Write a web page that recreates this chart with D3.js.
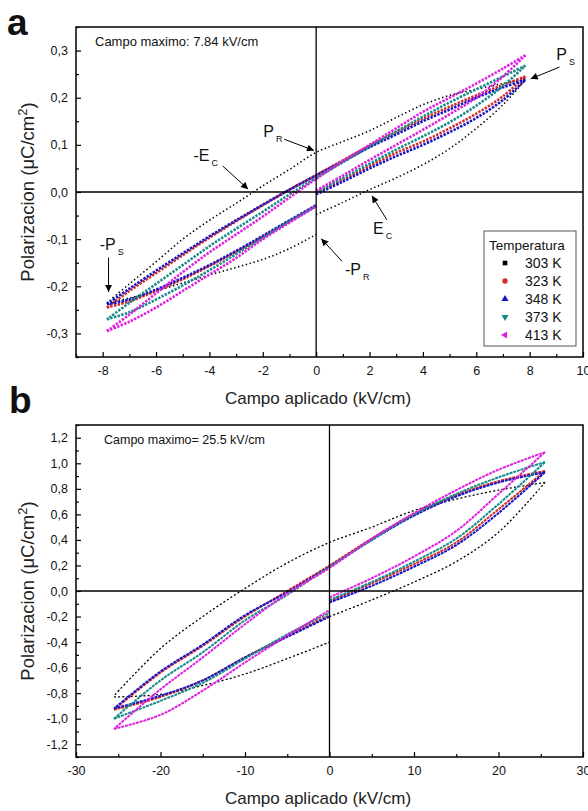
<!DOCTYPE html>
<html>
<head>
<meta charset="utf-8">
<script src="https://cdn.jsdelivr.net/npm/d3@7"></script>
<style>
  body { margin: 0; background: #fff; }
  svg { display: block; font-family: "Liberation Sans", Arial, sans-serif; }
</style>
</head>
<body>
<div id="chart"></div>
<script>
// temperatures, one loop each
const temps = ["303 K", "323 K", "348 K", "373 K", "413 K"]
const tempColors = ["#000000", "#d42a2a", "#1414c8", "#178a8a", "#e020e0"]

// ---- panel a : campo maximo 7.84 kV/cm ----
const aFieldFall = [7.84, 7, 6, 5, 4, 3, 2, 1, 0, -1, -2, -3, -4, -5, -6, -7, -7.84]
const aFieldReturn = [-7.84, -7, -6, -5, -4, -3, -2, -1, 0]
const aFieldRise = [0, 1, 2, 3, 4, 5, 6, 7, 7.84]

const a303Fall = [0.24, 0.23, 0.218, 0.205, 0.185, 0.158, 0.13, 0.107, 0.084, 0.048, 0.013, -0.024, -0.06, -0.1, -0.148, -0.195, -0.235]
const a303Return = [-0.235, -0.225, -0.21, -0.193, -0.176, -0.16, -0.143, -0.12, -0.09]
const a303Rise = [-0.048, -0.022, 0.005, 0.03, 0.058, 0.092, 0.135, 0.185, 0.238]

const a323Fall = [0.245, 0.227, 0.205, 0.181, 0.155, 0.127, 0.098, 0.067, 0.036, 0.005, -0.028, -0.062, -0.097, -0.134, -0.172, -0.21, -0.245]
const a323Return = [-0.245, -0.232, -0.21, -0.185, -0.157, -0.127, -0.095, -0.062, -0.03]
const a323Rise = [-0.002, 0.026, 0.055, 0.083, 0.107, 0.135, 0.166, 0.203, 0.245]

const a348Fall = [0.238, 0.222, 0.2, 0.175, 0.15, 0.122, 0.095, 0.065, 0.035, 0.005, -0.027, -0.06, -0.094, -0.13, -0.167, -0.205, -0.238]
const a348Return = [-0.238, -0.228, -0.207, -0.182, -0.155, -0.125, -0.093, -0.06, -0.028]
const a348Rise = [-0.005, 0.022, 0.05, 0.076, 0.1, 0.127, 0.157, 0.195, 0.238]

const a373Fall = [0.268, 0.245, 0.218, 0.19, 0.16, 0.128, 0.096, 0.063, 0.03, -0.005, -0.042, -0.078, -0.115, -0.155, -0.195, -0.235, -0.27]
const a373Return = [-0.27, -0.255, -0.228, -0.198, -0.166, -0.132, -0.097, -0.062, -0.03]
const a373Rise = [0.0, 0.03, 0.06, 0.09, 0.118, 0.148, 0.183, 0.225, 0.268]

const a413Fall = [0.29, 0.262, 0.23, 0.2, 0.17, 0.135, 0.1, 0.065, 0.028, -0.012, -0.052, -0.09, -0.128, -0.17, -0.215, -0.26, -0.295]
const a413Return = [-0.295, -0.275, -0.245, -0.21, -0.175, -0.14, -0.1, -0.065, -0.03]
const a413Rise = [0.003, 0.035, 0.068, 0.1, 0.132, 0.165, 0.2, 0.245, 0.29]

const aXTicks = [-8, -6, -4, -2, 0, 2, 4, 6, 8, 10]
const aXMinor = [-9, -7, -5, -3, -1, 1, 3, 5, 7, 9]
const aYTicks = [-0.3, -0.2, -0.1, 0, 0.1, 0.2, 0.3]
const aYMinor = [-0.35, -0.25, -0.15, -0.05, 0.05, 0.15, 0.25, 0.35]

// ---- panel b : campo maximo 25.5 kV/cm ----
const bFieldFall = [25.5, 20, 15, 10, 5, 0, -5, -10, -15, -20, -25.5]
const bFieldReturn = [-25.5, -20, -15, -10, -5, 0]
const bFieldRise = [0, 5, 10, 15, 20, 25.5]

const b303Fall = [0.85, 0.79, 0.72, 0.63, 0.5, 0.38, 0.22, 0.02, -0.2, -0.45, -0.82]
const b303Return = [-0.83, -0.81, -0.74, -0.65, -0.53, -0.4]
const b303Rise = [-0.2, -0.07, 0.07, 0.23, 0.46, 0.85]

const b323Fall = [0.94, 0.86, 0.75, 0.6, 0.41, 0.2, 0.0, -0.2, -0.43, -0.64, -0.93]
const b323Return = [-0.93, -0.83, -0.7, -0.52, -0.35, -0.19]
const b323Rise = [-0.08, 0.06, 0.21, 0.38, 0.64, 0.94]

const b348Fall = [0.93, 0.85, 0.74, 0.59, 0.4, 0.19, -0.01, -0.19, -0.42, -0.63, -0.92]
const b348Return = [-0.92, -0.82, -0.7, -0.52, -0.36, -0.2]
const b348Rise = [-0.09, 0.04, 0.19, 0.36, 0.61, 0.93]

const b373Fall = [1.01, 0.89, 0.76, 0.6, 0.4, 0.19, -0.03, -0.23, -0.48, -0.7, -1.0]
const b373Return = [-1.0, -0.86, -0.72, -0.53, -0.34, -0.17]
const b373Rise = [-0.07, 0.07, 0.23, 0.41, 0.68, 1.01]

const b413Fall = [1.087, 0.95, 0.79, 0.61, 0.41, 0.18, -0.02, -0.26, -0.52, -0.77, -1.08]
const b413Return = [-1.08, -0.97, -0.78, -0.56, -0.35, -0.15]
const b413Rise = [-0.05, 0.1, 0.27, 0.47, 0.76, 1.087]

const bXTicks = [-30, -20, -10, 0, 10, 20, 30]
const bXMinor = [-25, -15, -5, 5, 15, 25]
const bYTicks = [-1.2, -1.0, -0.8, -0.6, -0.4, -0.2, 0, 0.2, 0.4, 0.6, 0.8, 1.0, 1.2]
const bYMinor = [-1.3, -1.1, -0.9, -0.7, -0.5, -0.3, -0.1, 0.1, 0.3, 0.5, 0.7, 0.9, 1.1, 1.3]

const width = 588
const height = 811

const loc = d3.formatLocale({ decimal: ",", thousands: ".", grouping: [3], currency: ["", ""], minus: "-" })
const fmtDec = loc.format(".1f")
const fmtInt = loc.format("d")

const svg = d3.select("#chart").append("svg")
    .attr("width", width)
    .attr("height", height)

const defs = svg.append("defs")
defs.append("marker")
    .attr("id", "arrow")
    .attr("viewBox", "0 0 10 10")
    .attr("refX", 10)
    .attr("refY", 5)
    .attr("markerWidth", 8)
    .attr("markerHeight", 7)
    .attr("markerUnits", "userSpaceOnUse")
    .attr("orient", "auto")
    .append("path")
    .attr("d", "M0,0 L10,5 L0,10 Z")
    .attr("fill", "#000")

function drawPanel(cfg) {
    const x = d3.scaleLinear().domain(cfg.xDomain).range([76, 583])
    const y = d3.scaleLinear().domain(cfg.yDomain).range([cfg.bottom, cfg.top])
    const g = svg.append("g")

    // loops
    const line = d3.line()
        .x(d => x(d[0]))
        .y(d => y(d[1]))
        .curve(d3.curveCatmullRom.alpha(0.5))

    cfg.loops.forEach((loop, i) => {
        const isBlack = i === 0
        const branches = [
            d3.zip(cfg.fieldFall, loop.fall),
            d3.zip(cfg.fieldReturn, loop.ret),
            d3.zip(cfg.fieldRise, loop.rise)
        ]
        g.append("g").selectAll("path")
            .data(branches)
            .join("path")
            .attr("d", line)
            .attr("fill", "none")
            .attr("stroke", tempColors[i])
            .attr("stroke-width", isBlack ? cfg.blackWidth : cfg.colorWidth)
            .attr("stroke-dasharray", isBlack ? cfg.blackDash : cfg.colorDash)
    })

    // zero lines
    g.append("line")
        .attr("x1", x.range()[0]).attr("x2", x.range()[1])
        .attr("y1", y(0)).attr("y2", y(0))
        .attr("stroke", "#000").attr("stroke-width", 1.3)
    g.append("line")
        .attr("x1", x(0)).attr("x2", x(0))
        .attr("y1", cfg.top).attr("y2", cfg.bottom)
        .attr("stroke", "#000").attr("stroke-width", 1.3)

    // axes, ticks pointing inward
    g.append("g")
        .attr("transform", `translate(0,${cfg.bottom})`)
        .call(d3.axisBottom(x).tickValues(cfg.xTicks).tickSize(-5).tickPadding(9).tickFormat(fmtInt))
    g.append("g")
        .attr("transform", `translate(0,${cfg.bottom})`)
        .call(d3.axisBottom(x).tickValues(cfg.xMinor).tickSize(-3).tickFormat(""))
    g.append("g")
        .attr("transform", `translate(${x.range()[0]},0)`)
        .call(d3.axisLeft(y).tickValues(cfg.yTicks).tickSize(-5).tickPadding(8).tickFormat(fmtDec))
    g.append("g")
        .attr("transform", `translate(${x.range()[0]},0)`)
        .call(d3.axisLeft(y).tickValues(cfg.yMinor).tickSize(-3).tickFormat(""))

    g.selectAll(".domain").remove()
    g.selectAll(".tick line").attr("stroke", "#000").attr("stroke-width", 1.2)
    g.selectAll(".tick text")
        .attr("font-size", 12.5)
        .attr("font-family", "Liberation Sans, Arial, sans-serif")
        .attr("fill", "#111")

    // frame
    g.append("rect")
        .attr("x", x.range()[0])
        .attr("y", cfg.top)
        .attr("width", x.range()[1] - x.range()[0])
        .attr("height", cfg.bottom - cfg.top)
        .attr("fill", "none")
        .attr("stroke", "#000")
        .attr("stroke-width", 1.5)

    // axis titles
    g.append("text")
        .attr("x", 318)
        .attr("y", cfg.bottom + 47)
        .attr("text-anchor", "middle")
        .attr("font-size", 17)
        .attr("fill", "#222")
        .text("Campo aplicado (kV/cm)")

    const yt = g.append("text")
        .attr("transform", `translate(34,${(cfg.top + cfg.bottom) / 2}) rotate(-90)`)
        .attr("text-anchor", "middle")
        .attr("font-size", 18.5)
        .attr("fill", "#222")
    yt.append("tspan").text("Polarizacion (\u03bcC/cm")
    yt.append("tspan").attr("font-size", 13).attr("dy", -7).text("2")
    yt.append("tspan").attr("dy", 7).text(")")

    // panel letter
    g.append("text")
        .attr("x", cfg.letterX)
        .attr("y", cfg.letterY)
        .attr("font-size", 37)
        .attr("font-weight", "bold")
        .attr("fill", "#111")
        .text(cfg.letter)

    // max field note
    g.append("text")
        .attr("x", cfg.noteX)
        .attr("y", cfg.top + 19)
        .attr("font-size", cfg.noteSize)
        .attr("fill", "#111")
        .text(cfg.note)

    return { x, y, g }
}

const panelA = drawPanel({
    xDomain: [-9, 10], yDomain: [-0.35, 0.35], top: 27, bottom: 357,
    xTicks: aXTicks, xMinor: aXMinor, yTicks: aYTicks, yMinor: aYMinor,
    fieldFall: aFieldFall, fieldReturn: aFieldReturn, fieldRise: aFieldRise,
    loops: [
        { fall: a303Fall, ret: a303Return, rise: a303Rise },
        { fall: a323Fall, ret: a323Return, rise: a323Rise },
        { fall: a348Fall, ret: a348Return, rise: a348Rise },
        { fall: a373Fall, ret: a373Return, rise: a373Rise },
        { fall: a413Fall, ret: a413Return, rise: a413Rise }
    ],
    blackWidth: 1.6, blackDash: "1.4,2.6", colorWidth: 2.6, colorDash: "2.4,1.3",
    letter: "a", letterX: 7, letterY: 35,
    note: "Campo maximo: 7.84 kV/cm", noteX: 95, noteSize: 13
})

const panelB = drawPanel({
    xDomain: [-30, 30], yDomain: [-1.3, 1.3], top: 425, bottom: 757,
    xTicks: bXTicks, xMinor: bXMinor, yTicks: bYTicks, yMinor: bYMinor,
    fieldFall: bFieldFall, fieldReturn: bFieldReturn, fieldRise: bFieldRise,
    loops: [
        { fall: b303Fall, ret: b303Return, rise: b303Rise },
        { fall: b323Fall, ret: b323Return, rise: b323Rise },
        { fall: b348Fall, ret: b348Return, rise: b348Rise },
        { fall: b373Fall, ret: b373Return, rise: b373Rise },
        { fall: b413Fall, ret: b413Return, rise: b413Rise }
    ],
    blackWidth: 1.3, blackDash: "2,2.2", colorWidth: 2, colorDash: "3,0.8",
    letter: "b", letterX: 9, letterY: 413,
    note: "Campo maximo= 25.5 kV/cm", noteX: 104, noteSize: 12.5
})

// annotations in panel a (data units)
const annoLabels = ["P", "-E", "P", "E", "-P", "-P"]
const annoSubs = ["R", "C", "S", "C", "R", "S"]
const annoText = [[-1.98, 0.116], [-4.6, 0.066], [9.0, 0.281], [2.13, -0.09], [1.08, -0.175], [-8.11, -0.122]]
const annoFrom = [[-1.2, 0.112], [-3.5, 0.055], [9.12, 0.265], [2.65, -0.059], [0.97, -0.147], [-7.78, -0.139]]
const annoTo = [[-0.08, 0.088], [-2.55, 0.006], [8.04, 0.24], [2.09, -0.008], [0.19, -0.099], [-7.78, -0.212]]

const ax = panelA.x, ay = panelA.y
const anno = panelA.g.append("g")
annoLabels.forEach((lab, i) => {
    const t = anno.append("text")
        .attr("x", ax(annoText[i][0]))
        .attr("y", ay(annoText[i][1]))
        .attr("font-size", 16)
        .attr("fill", "#111")
    t.append("tspan").text(lab)
    t.append("tspan").attr("font-size", 9).attr("dx", 2).attr("dy", 5).text(annoSubs[i])
    anno.append("line")
        .attr("x1", ax(annoFrom[i][0])).attr("y1", ay(annoFrom[i][1]))
        .attr("x2", ax(annoTo[i][0])).attr("y2", ay(annoTo[i][1]))
        .attr("stroke", "#000")
        .attr("stroke-width", 1)
        .attr("marker-end", "url(#arrow)")
})

// legend in panel a
const legend = panelA.g.append("g")
legend.append("rect")
    .attr("x", 484).attr("y", 231).attr("width", 92).attr("height", 115)
    .attr("fill", "#fff").attr("stroke", "#555").attr("stroke-width", 1)
legend.append("text")
    .attr("x", 489).attr("y", 250)
    .attr("font-size", 13.5).attr("fill", "#111")
    .text("Temperatura")

const legendShapes = [
    { type: d3.symbolSquare, rot: 0 },
    { type: d3.symbolCircle, rot: 0 },
    { type: d3.symbolTriangle, rot: 0 },
    { type: d3.symbolTriangle, rot: 180 },
    { type: d3.symbolTriangle, rot: -90 }
]
const rows = legend.selectAll("g.row")
    .data(temps)
    .join("g")
    .attr("class", "row")
    .attr("transform", (d, i) => `translate(505,${263 + i * 18})`)
rows.append("path")
    .attr("d", (d, i) => d3.symbol(legendShapes[i].type, 22)())
    .attr("transform", (d, i) => `rotate(${legendShapes[i].rot})`)
    .attr("fill", (d, i) => tempColors[i])
rows.append("text")
    .attr("x", 20)
    .attr("y", 5)
    .attr("font-size", 14)
    .attr("fill", "#111")
    .text(d => d)
</script>
</body>
</html>
